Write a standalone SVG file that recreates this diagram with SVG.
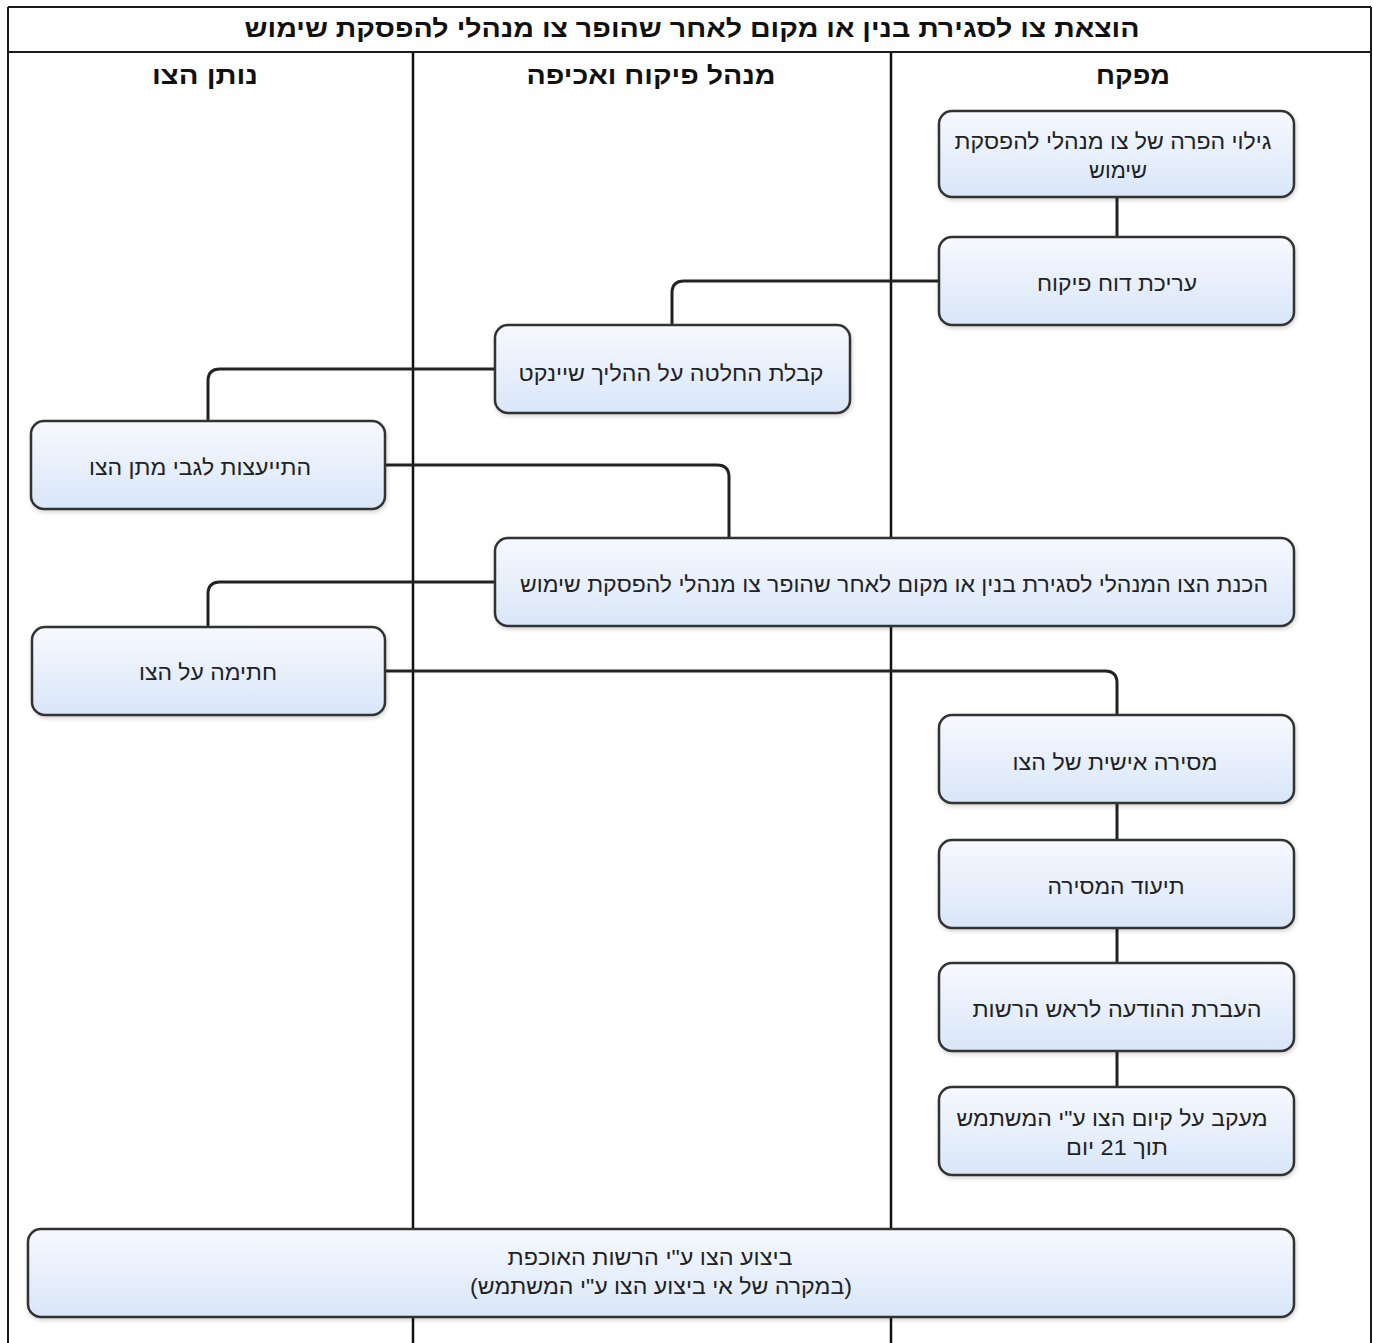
<svg xmlns="http://www.w3.org/2000/svg" width="1373" height="1343" viewBox="0 0 1373 1343">
<defs>
<linearGradient id="g" x1="0" y1="0" x2="0" y2="1">
<stop offset="0" stop-color="#f6f9fe"/>
<stop offset="1" stop-color="#d9e6f8"/>
</linearGradient>
<filter id="sh" x="-5%" y="-10%" width="110%" height="125%">
<feDropShadow dx="1" dy="2" stdDeviation="2" flood-color="#000" flood-opacity="0.18"/>
</filter>
<style>
.frame{fill:none;stroke:#1a1a1a;stroke-width:2}
.lane{stroke:#111;stroke-width:2.5}
.box{fill:url(#g);stroke:#333;stroke-width:2.5;filter:url(#sh)}
.conn{fill:none;stroke:#222;stroke-width:3}
.t{font-family:"Liberation Sans","DejaVu Sans",sans-serif;font-size:22px;fill:#222;text-anchor:middle;direction:rtl;unicode-bidi:embed}
.h{font-family:"Liberation Sans","DejaVu Sans",sans-serif;font-size:25px;font-weight:bold;fill:#111;text-anchor:middle;direction:rtl;unicode-bidi:embed}
</style>
</defs>
<rect width="1373" height="1343" fill="#fff"/>
<g id="pool">
<line class="frame" x1="8" y1="7" x2="1371" y2="7"/>
<line class="frame" x1="8" y1="7" x2="8" y2="1343"/>
<line class="frame" x1="1371" y1="7" x2="1371" y2="1343"/>
<line class="frame" x1="8" y1="52" x2="1371" y2="52"/>
<line class="lane" x1="413" y1="52" x2="413" y2="1343"/>
<line class="lane" x1="891" y1="52" x2="891" y2="1343"/>
<text class="h" x="692" y="37" textLength="895" lengthAdjust="spacingAndGlyphs">הוצאת צו לסגירת בנין או מקום לאחר שהופר צו מנהלי להפסקת שימוש</text>
<text class="h" x="1133" y="84" textLength="74" lengthAdjust="spacingAndGlyphs">מפקח</text>
<text class="h" x="651" y="84" textLength="249" lengthAdjust="spacingAndGlyphs">מנהל פיקוח ואכיפה</text>
<text class="h" x="205" y="84" textLength="106" lengthAdjust="spacingAndGlyphs">נותן הצו</text>
</g>
<g id="connectors">
<line class="conn" x1="1117" y1="197" x2="1117" y2="237"/>
<path class="conn" d="M939 281 H684 Q672 281 672 293 V325"/>
<path class="conn" d="M495 369 H220 Q208 369 208 381 V421"/>
<path class="conn" d="M385 465 H717 Q729 465 729 477 V538"/>
<path class="conn" d="M495 582 H220 Q208 582 208 594 V627"/>
<path class="conn" d="M385 671 H1105 Q1117 671 1117 683 V715"/>
<line class="conn" x1="1117" y1="803" x2="1117" y2="840"/>
<line class="conn" x1="1117" y1="928" x2="1117" y2="963"/>
<line class="conn" x1="1117" y1="1051" x2="1117" y2="1087"/>
</g>
<g id="n1">
<rect class="box" x="939" y="111" width="355" height="86" rx="13"/>
<text class="t" x="1113" y="149" textLength="317" lengthAdjust="spacingAndGlyphs">גילוי הפרה של צו מנהלי להפסקת</text>
<text class="t" x="1118" y="178">שימוש</text>
</g>
<g id="n2">
<rect class="box" x="939" y="237" width="355" height="88" rx="13"/>
<text class="t" x="1117" y="291" textLength="160" lengthAdjust="spacingAndGlyphs">עריכת דוח פיקוח</text>
</g>
<g id="n3">
<rect class="box" x="495" y="325" width="355" height="88" rx="13"/>
<text class="t" x="671" y="381" textLength="305" lengthAdjust="spacingAndGlyphs">קבלת החלטה על ההליך שיינקט</text>
</g>
<g id="n4">
<rect class="box" x="31" y="421" width="354" height="88" rx="13"/>
<text class="t" x="200" y="475" textLength="222" lengthAdjust="spacingAndGlyphs">התייעצות לגבי מתן הצו</text>
</g>
<g id="n5">
<rect class="box" x="495" y="538" width="799" height="88" rx="13"/>
<text class="t" x="894" y="592" textLength="748" lengthAdjust="spacingAndGlyphs">הכנת הצו המנהלי לסגירת בנין או מקום לאחר שהופר צו מנהלי להפסקת שימוש</text>
</g>
<g id="n6">
<rect class="box" x="32" y="627" width="353" height="88" rx="13"/>
<text class="t" x="208" y="680" textLength="138" lengthAdjust="spacingAndGlyphs">חתימה על הצו</text>
</g>
<g id="n7">
<rect class="box" x="939" y="715" width="355" height="88" rx="13"/>
<text class="t" x="1115" y="770" textLength="205" lengthAdjust="spacingAndGlyphs">מסירה אישית של הצו</text>
</g>
<g id="n8">
<rect class="box" x="939" y="840" width="355" height="88" rx="13"/>
<text class="t" x="1116" y="894" textLength="137" lengthAdjust="spacingAndGlyphs">תיעוד המסירה</text>
</g>
<g id="n9">
<rect class="box" x="939" y="963" width="355" height="88" rx="13"/>
<text class="t" x="1117" y="1017" textLength="289" lengthAdjust="spacingAndGlyphs">העברת ההודעה לראש הרשות</text>
</g>
<g id="n10">
<rect class="box" x="939" y="1087" width="355" height="88" rx="13"/>
<text class="t" x="1112" y="1126" textLength="311" lengthAdjust="spacingAndGlyphs">מעקב על קיום הצו ע"י המשתמש</text>
<text class="t" x="1117" y="1155" textLength="102" lengthAdjust="spacingAndGlyphs">תוך 21 יום</text>
</g>
<g id="n11">
<rect class="box" x="28" y="1229" width="1266" height="88" rx="13"/>
<text class="t" x="650" y="1265" textLength="285" lengthAdjust="spacingAndGlyphs">ביצוע הצו ע"י הרשות האוכפת</text>
<text class="t" x="661" y="1294" textLength="382" lengthAdjust="spacingAndGlyphs">(במקרה של אי ביצוע הצו ע"י המשתמש)</text>
</g>
</svg>
